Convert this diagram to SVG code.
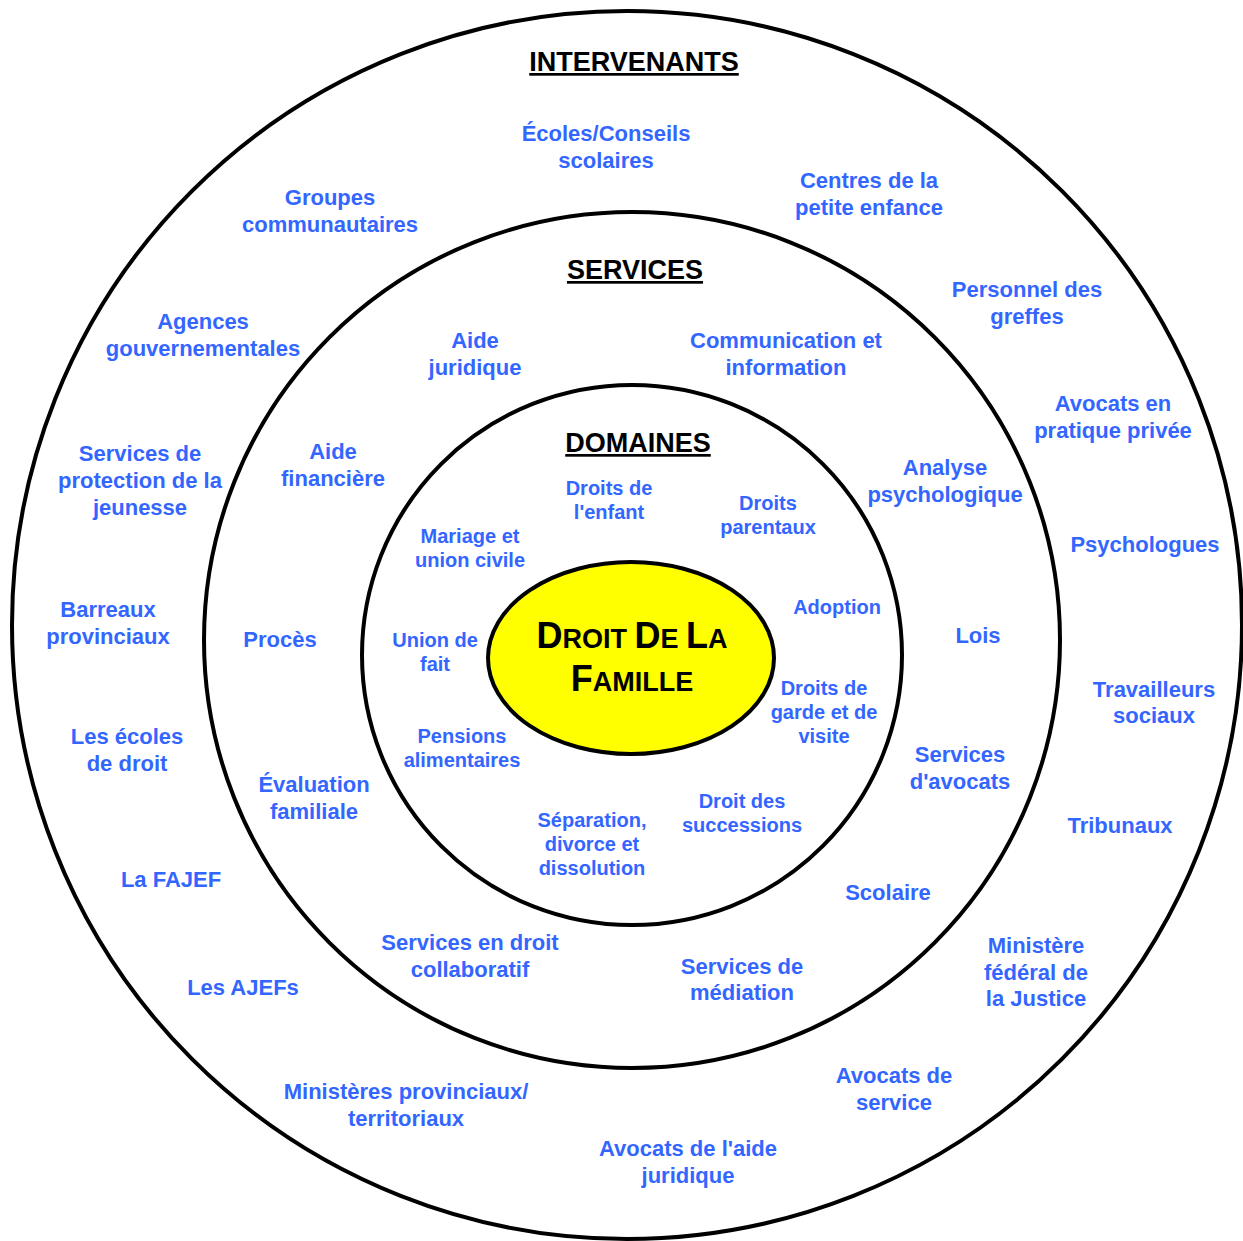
<svg xmlns="http://www.w3.org/2000/svg" width="1243" height="1241" viewBox="0 0 1243 1241">
<style>
.ring{fill:none;stroke:#000;stroke-width:4}
.t{font-family:"Liberation Sans",Arial,sans-serif;font-weight:bold;fill:#3366FF;text-anchor:middle}
.o{font-size:22px}
.d{font-size:20px}
.h{font-family:"Liberation Sans",Arial,sans-serif;font-weight:bold;fill:#000;text-anchor:middle;font-size:27px;text-decoration:underline}
.c{font-family:"Liberation Sans",Arial,sans-serif;font-weight:bold;fill:#000;text-anchor:middle}
</style>
<rect width="1243" height="1241" fill="#fff"/>
<g id="rings">
<ellipse id="outer" class="ring" cx="627" cy="625" rx="615" ry="614"/>
<circle id="middle" class="ring" cx="632" cy="640" r="428"/>
<circle id="inner" class="ring" cx="632" cy="655" r="270"/>
</g>
<g id="center">
<ellipse cx="631" cy="658" rx="143" ry="96" fill="#FFFF00" stroke="#000" stroke-width="4"/>
<text class="c" x="632" y="648"><tspan font-size="36">D</tspan><tspan font-size="27">ROIT </tspan><tspan font-size="36">D</tspan><tspan font-size="27">E </tspan><tspan font-size="36">L</tspan><tspan font-size="27">A</tspan></text>
<text class="c" x="632" y="691"><tspan font-size="36">F</tspan><tspan font-size="27">AMILLE</tspan></text>
</g>
<g id="titles">
<text class="h" x="634" y="71">INTERVENANTS</text>
<text class="h" x="635" y="279">SERVICES</text>
<text class="h" x="638" y="452">DOMAINES</text>
</g>
<g id="intervenants" class="t o">
<text x="606" y="141">Écoles/Conseils<tspan x="606" dy="27">scolaires</tspan></text>
<text x="330" y="205">Groupes<tspan x="330" dy="27">communautaires</tspan></text>
<text x="869" y="188">Centres de la<tspan x="869" dy="27">petite enfance</tspan></text>
<text x="1027" y="297">Personnel des<tspan x="1027" dy="27">greffes</tspan></text>
<text x="203" y="329">Agences<tspan x="203" dy="27">gouvernementales</tspan></text>
<text x="1113" y="411">Avocats en<tspan x="1113" dy="27">pratique privée</tspan></text>
<text x="140" y="461">Services de<tspan x="140" dy="27">protection de la</tspan><tspan x="140" dy="27">jeunesse</tspan></text>
<text x="1145" y="552">Psychologues</text>
<text x="108" y="617">Barreaux<tspan x="108" dy="27">provinciaux</tspan></text>
<text x="1154" y="697">Travailleurs<tspan x="1154" dy="26">sociaux</tspan></text>
<text x="127" y="744">Les écoles<tspan x="127" dy="27">de droit</tspan></text>
<text x="1120" y="833">Tribunaux</text>
<text x="171" y="887">La FAJEF</text>
<text x="1036" y="953">Ministère<tspan x="1036" dy="27">fédéral de</tspan><tspan x="1036" dy="26">la Justice</tspan></text>
<text x="243" y="995">Les AJEFs</text>
<text x="894" y="1083">Avocats de<tspan x="894" dy="27">service</tspan></text>
<text x="406" y="1099">Ministères provinciaux/<tspan x="406" dy="27">territoriaux</tspan></text>
<text x="688" y="1156">Avocats de l'aide<tspan x="688" dy="27">juridique</tspan></text>
</g>
<g id="services" class="t o">
<text x="475" y="348">Aide<tspan x="475" dy="27">juridique</tspan></text>
<text x="786" y="348">Communication et<tspan x="786" dy="27">information</tspan></text>
<text x="333" y="459">Aide<tspan x="333" dy="27">financière</tspan></text>
<text x="945" y="475">Analyse<tspan x="945" dy="27">psychologique</tspan></text>
<text x="280" y="647">Procès</text>
<text x="978" y="643">Lois</text>
<text x="960" y="762">Services<tspan x="960" dy="27">d'avocats</tspan></text>
<text x="314" y="792">Évaluation<tspan x="314" dy="27">familiale</tspan></text>
<text x="888" y="900">Scolaire</text>
<text x="470" y="950">Services en droit<tspan x="470" dy="27">collaboratif</tspan></text>
<text x="742" y="974">Services de<tspan x="742" dy="26">médiation</tspan></text>
</g>
<g id="domaines" class="t d">
<text x="609" y="495">Droits de<tspan x="609" dy="24">l'enfant</tspan></text>
<text x="768" y="510">Droits<tspan x="768" dy="24">parentaux</tspan></text>
<text x="470" y="543">Mariage et<tspan x="470" dy="24">union civile</tspan></text>
<text x="837" y="614">Adoption</text>
<text x="435" y="647">Union de<tspan x="435" dy="24">fait</tspan></text>
<text x="824" y="695">Droits de<tspan x="824" dy="24">garde et de</tspan><tspan x="824" dy="24">visite</tspan></text>
<text x="462" y="743">Pensions<tspan x="462" dy="24">alimentaires</tspan></text>
<text x="742" y="808">Droit des<tspan x="742" dy="24">successions</tspan></text>
<text x="592" y="827">Séparation,<tspan x="592" dy="24">divorce et</tspan><tspan x="592" dy="24">dissolution</tspan></text>
</g>
</svg>
